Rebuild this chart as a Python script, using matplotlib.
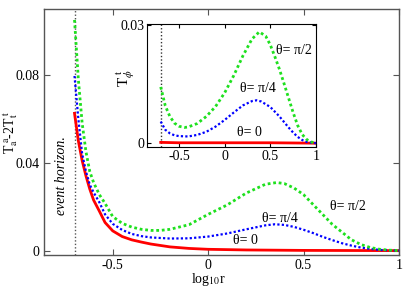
import matplotlib
matplotlib.use("Agg")
import matplotlib.pyplot as plt

plt.rcParams['font.family'] = ['Liberation Serif', 'DejaVu Serif']
plt.rcParams['mathtext.fontset'] = 'stix'
plt.rcParams['axes.unicode_minus'] = False

# main panel: T_a^a - 2T_t^t vs log10 r
x_green = [-0.70, -0.68, -0.66, -0.64, -0.62, -0.60, -0.57, -0.54, -0.50, -0.45, -0.40,
           -0.35, -0.30, -0.25, -0.20, -0.10, 0.00, 0.10, 0.20, 0.30, 0.36, 0.40, 0.45,
           0.50, 0.55, 0.60, 0.65, 0.70, 0.75, 0.80, 0.85, 0.90, 0.95, 1.00]
y_green = [0.105, 0.078, 0.058, 0.045, 0.036, 0.031, 0.0255, 0.0215, 0.0155, 0.0124, 0.0107,
           0.0097, 0.0092, 0.0092, 0.0097, 0.0118, 0.0165, 0.0208, 0.0262, 0.0302, 0.0310,
           0.0305, 0.0285, 0.0255, 0.0210, 0.0165, 0.0120, 0.0085, 0.0050, 0.0028, 0.0014,
           0.0006, 0.0002, 0.0]

x_blue = [-0.70, -0.68, -0.66, -0.64, -0.62, -0.60, -0.57, -0.54, -0.50, -0.45, -0.40,
          -0.35, -0.30, -0.20, -0.10, 0.00, 0.10, 0.20, 0.30, 0.35, 0.40, 0.45, 0.50,
          0.55, 0.60, 0.65, 0.70, 0.75, 0.80, 0.85, 0.90, 1.00]
y_blue = [0.0795, 0.060, 0.044, 0.036, 0.030, 0.0265, 0.022, 0.0165, 0.0122, 0.0094, 0.0076,
          0.0066, 0.0060, 0.0055, 0.0056, 0.0064, 0.0078, 0.0097, 0.0115, 0.0120, 0.0117,
          0.0108, 0.0095, 0.0080, 0.0063, 0.0048, 0.0034, 0.0023, 0.0014, 0.0008, 0.0003, 0.0]

x_red = [-0.70, -0.68, -0.66, -0.64, -0.62, -0.60, -0.57, -0.54, -0.50, -0.45, -0.40,
         -0.35, -0.30, -0.20, -0.10, 0.00, 0.20, 0.50, 1.00]
y_red = [0.0625, 0.050, 0.041, 0.034, 0.028, 0.023, 0.018, 0.0128, 0.0090, 0.0064, 0.0049,
         0.0039, 0.0030, 0.0017, 0.0010, 0.0006, 0.0003, 0.0001, 0.0]

# inset: T_phi^t vs log10 r
xi_green = [-0.70, -0.65, -0.60, -0.55, -0.50, -0.44, -0.40, -0.30, -0.20, -0.10, 0.00,
            0.10, 0.20, 0.30, 0.38, 0.45, 0.50, 0.55, 0.60, 0.65, 0.70, 0.75, 0.80,
            0.85, 0.90, 0.95, 1.00]
yi_green = [0.0143, 0.0095, 0.0068, 0.0051, 0.0043, 0.0040, 0.0041, 0.0050, 0.0068, 0.0093,
            0.0128, 0.0172, 0.0222, 0.0265, 0.0283, 0.0272, 0.0250, 0.0220, 0.0188, 0.0152,
            0.0115, 0.0078, 0.0045, 0.0022, 0.0009, 0.0003, 0.0]

xi_blue = [-0.70, -0.65, -0.60, -0.55, -0.50, -0.40, -0.30, -0.20, -0.10, 0.00, 0.10, 0.20,
           0.30, 0.35, 0.40, 0.50, 0.55, 0.60, 0.65, 0.70, 0.75, 0.80, 0.85, 0.90, 1.00]
yi_blue = [0.0055, 0.0034, 0.0025, 0.0020, 0.0018, 0.0017, 0.0021, 0.0029, 0.0042, 0.0059,
           0.0078, 0.0096, 0.0107, 0.0109, 0.0106, 0.0092, 0.0080, 0.0068, 0.0054, 0.0040,
           0.0027, 0.0016, 0.0008, 0.0003, 0.0]

xi_red = [-0.70, -0.50, 0.00, 0.50, 1.00]
yi_red = [0.0002, 0.0001, 0.0001, 0.0001, 0.0]

horizon = -0.70
main_xticks = [-0.5, 0, 0.5, 1]
main_xlabels = ['-0.5', '0', '0.5', '1']
main_yticks = [0, 0.04, 0.08]
main_ylabels = ['0', '0.04', '0.08']
inset_yticks = [0, 0.03]
inset_ylabels = ['0', '0.03']

GREEN = '#1ee01e'
BLUE = '#0000ff'
RED = '#ff0000'

fig = plt.figure(figsize=(4.13, 2.89), dpi=100)
ax = fig.add_axes([0.1065, 0.1176, 0.8595, 0.8514])

ax.axvline(horizon, color='#555555', lw=1, linestyle=(0, (1, 1.5)))
ax.plot(x_red, y_red, color=RED, lw=2)
ax.plot(x_blue, y_blue, color=BLUE, lw=1.6, linestyle=(0, (1, 1)))
ax.plot(x_green, y_green, color=GREEN, lw=2, linestyle=(0, (1, 1)))

ax.set_xlim(-0.86, 1.0)
ax.set_ylim(-0.002, 0.11)
ax.set_xticks(main_xticks)
ax.set_xticklabels(main_xlabels)
ax.set_yticks(main_yticks)
ax.set_yticklabels(main_ylabels)
ax.tick_params(direction='in', top=True, right=True, length=4, width=0.8,
               color='#555555', labelsize=10, pad=3)
for s in ax.spines.values():
    s.set_color('#555555')
    s.set_linewidth(1)

ax.set_xlabel(r'log$_{10}$r', fontsize=10)
ax.xaxis.set_label_coords(0.462, -0.065)
ax.set_ylabel(r'T$_{\rm a}^{\ \rm a}$-2T$_{\rm t}^{\ \rm t}$', fontsize=10)
ax.yaxis.set_label_coords(-0.068, 0.5)

ax.text(-0.766, 0.034, 'event horizon.', rotation=90, style='italic', fontsize=10,
        ha='center', va='center')
ax.text(0.734, 0.020, r'θ= π/2', fontsize=10, ha='center', va='center')
ax.text(0.378, 0.0148, r'θ= π/4', fontsize=10, ha='center', va='center')
ax.text(0.194, 0.0048, r'θ= 0', fontsize=10, ha='center', va='center')

# inset
axi = fig.add_axes([0.356, 0.491, 0.409, 0.426])
axi.axvline(horizon, color='#333333', lw=1, linestyle=(0, (1, 1.5)))
axi.plot(xi_red, yi_red, color=RED, lw=2)
axi.plot(xi_blue, yi_blue, color=BLUE, lw=1.6, linestyle=(0, (1, 1)))
axi.plot(xi_green, yi_green, color=GREEN, lw=2, linestyle=(0, (1, 1)))
axi.set_xlim(-0.85, 1.0)
axi.set_ylim(-0.001, 0.0303)
axi.set_xticks(main_xticks)
axi.set_xticklabels(main_xlabels)
axi.set_yticks(inset_yticks)
axi.set_yticklabels(inset_ylabels)
axi.tick_params(direction='in', top=True, right=True, length=3, width=0.8,
                labelsize=10, pad=2)
axi.set_ylabel(r'T$_{\phi}^{\ \rm t}$', fontsize=11)
axi.yaxis.set_label_coords(-0.06, 0.56)
axi.text(0.756, 0.0236, r'θ= π/2', fontsize=10, ha='center', va='center')
axi.text(0.361, 0.0140, r'θ= π/4', fontsize=10, ha='center', va='center')
axi.text(0.274, 0.0028, r'θ= 0', fontsize=10, ha='center', va='center')

fig.savefig('out.png', dpi=100)
